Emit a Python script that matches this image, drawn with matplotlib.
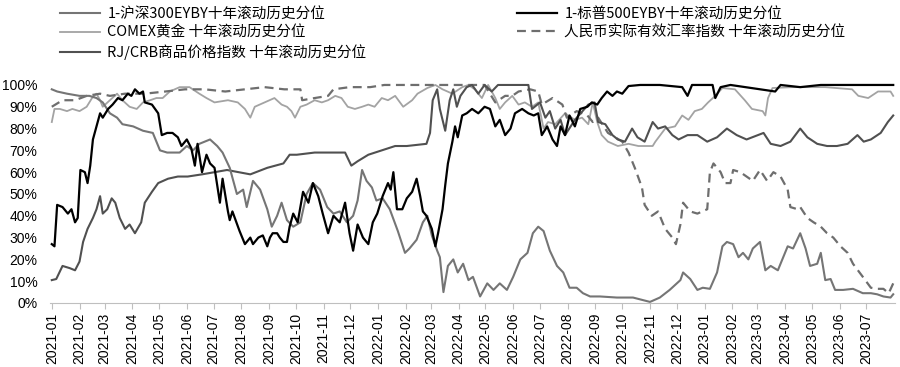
import pandas as pd
import matplotlib
matplotlib.use('Agg')
import matplotlib.pyplot as plt
import matplotlib.dates as mdates
from matplotlib.ticker import FuncFormatter

# ---- data (percentile, %) ----
sp500_dates = ['2021-01-01', '2021-01-04', '2021-01-07', '2021-01-13', '2021-01-19', '2021-01-23', '2021-01-27',
               '2021-01-30', '2021-02-02', '2021-02-07', '2021-02-10', '2021-02-13', '2021-02-16', '2021-02-20',
               '2021-02-24', '2021-02-27', '2021-03-05', '2021-03-10', '2021-03-16', '2021-03-21', '2021-03-27',
               '2021-03-31', '2021-04-04', '2021-04-09', '2021-04-13', '2021-04-15', '2021-04-23', '2021-04-30',
               '2021-05-04', '2021-05-10', '2021-05-16', '2021-05-22', '2021-05-26', '2021-06-01', '2021-06-06',
               '2021-06-10', '2021-06-13', '2021-06-18', '2021-06-23', '2021-06-27', '2021-07-02', '2021-07-08',
               '2021-07-11', '2021-07-17', '2021-07-19', '2021-07-22', '2021-07-30', '2021-08-05', '2021-08-11',
               '2021-08-14', '2021-08-20', '2021-08-25', '2021-08-30', '2021-09-02', '2021-09-05', '2021-09-10',
               '2021-09-13', '2021-09-17', '2021-09-21', '2021-09-24', '2021-09-28', '2021-10-03', '2021-10-09',
               '2021-10-15', '2021-10-20', '2021-10-26', '2021-10-31', '2021-11-06', '2021-11-12', '2021-11-19',
               '2021-11-25', '2021-11-30', '2021-12-04', '2021-12-09', '2021-12-15', '2021-12-21', '2021-12-26',
               '2021-12-31', '2022-01-06', '2022-01-12', '2022-01-15', '2022-01-18', '2022-01-22', '2022-01-28',
               '2022-02-02', '2022-02-08', '2022-02-13', '2022-02-17', '2022-02-20', '2022-02-24', '2022-03-02',
               '2022-03-06', '2022-03-09', '2022-03-14', '2022-03-17', '2022-03-20', '2022-03-25', '2022-03-28',
               '2022-03-31', '2022-04-05', '2022-04-10', '2022-04-16', '2022-04-23', '2022-04-30', '2022-05-06',
               '2022-05-12', '2022-05-17', '2022-05-23', '2022-05-29', '2022-06-03', '2022-06-11', '2022-06-18',
               '2022-06-24', '2022-06-29', '2022-07-03', '2022-07-09', '2022-07-15', '2022-07-20', '2022-07-24',
               '2022-07-29', '2022-08-03', '2022-08-09', '2022-08-15', '2022-08-23', '2022-08-28', '2022-09-03',
               '2022-09-08', '2022-09-14', '2022-09-20', '2022-09-25', '2022-10-01', '2022-10-08', '2022-10-21',
               '2022-11-12', '2022-12-07', '2022-12-13', '2022-12-18', '2023-01-10', '2023-01-13', '2023-01-19',
               '2023-01-30', '2023-03-21', '2023-03-27', '2023-04-18', '2023-05-11', '2023-06-13', '2023-07-31']
sp500_vals = [27, 26, 45, 44, 41, 43, 37, 39, 61, 60, 55, 63, 75, 81, 87, 85, 89, 91, 94, 93, 96, 95, 98, 96, 97, 92,
              91, 87, 77, 78, 78, 76, 72, 75, 71, 63, 73, 60, 68, 64, 62, 46, 57, 42, 38, 42, 33, 27, 30, 27, 30, 31,
              26, 30, 32, 32, 30, 28, 28, 35, 41, 37, 51, 46, 55, 49, 41, 32, 40, 37, 46, 32, 24, 36, 30, 27, 37, 41,
              49, 55, 52, 60, 43, 43, 48, 51, 57, 49, 42, 40, 34, 26, 32, 43, 54, 64, 74, 81, 76, 86, 87, 89, 87, 90,
              89, 81, 84, 77, 80, 87, 89, 87, 86, 87, 77, 81, 75, 72, 81, 77, 86, 81, 89, 90, 92, 91, 94, 97, 95, 97,
              96, 99.5, 100, 100, 99, 95, 100, 100, 94, 99, 100, 97, 100, 99, 100, 100, 100]

csi300_dates = ['2021-01-01', '2021-01-07', '2021-01-18', '2021-02-01', '2021-02-12', '2021-02-20', '2021-02-27',
                '2021-03-07', '2021-03-15', '2021-03-21', '2021-04-02', '2021-04-13', '2021-04-24', '2021-05-02',
                '2021-05-10', '2021-05-24', '2021-06-01', '2021-06-08', '2021-06-15', '2021-06-27', '2021-07-05',
                '2021-07-11', '2021-07-19', '2021-07-27', '2021-08-03', '2021-08-07', '2021-08-14', '2021-08-22',
                '2021-08-30', '2021-09-04', '2021-09-10', '2021-09-15', '2021-09-21', '2021-09-28', '2021-10-06',
                '2021-10-13', '2021-10-20', '2021-10-28', '2021-11-05', '2021-11-12', '2021-11-19', '2021-11-27',
                '2021-12-04', '2021-12-09', '2021-12-14', '2021-12-19', '2021-12-25', '2021-12-30', '2022-01-06',
                '2022-01-14', '2022-01-23', '2022-01-31', '2022-02-05', '2022-02-13', '2022-02-20', '2022-02-25',
                '2022-03-02', '2022-03-08', '2022-03-11', '2022-03-15', '2022-03-20', '2022-03-26', '2022-03-31',
                '2022-04-06', '2022-04-12', '2022-04-17', '2022-04-25', '2022-05-03', '2022-05-10', '2022-05-17',
                '2022-05-25', '2022-06-01', '2022-06-09', '2022-06-17', '2022-06-23', '2022-06-29', '2022-07-05',
                '2022-07-12', '2022-07-20', '2022-07-27', '2022-08-03', '2022-08-11', '2022-08-18', '2022-08-26',
                '2022-09-06', '2022-09-25', '2022-10-13', '2022-11-01', '2022-11-12', '2022-11-23', '2022-12-05',
                '2022-12-08', '2022-12-16', '2022-12-24', '2022-12-30', '2023-01-07', '2023-01-15', '2023-01-21',
                '2023-01-26', '2023-02-02', '2023-02-08', '2023-02-13', '2023-02-19', '2023-02-24', '2023-03-04',
                '2023-03-10', '2023-03-16', '2023-03-24', '2023-03-29', '2023-04-04', '2023-04-10', '2023-04-18',
                '2023-04-24', '2023-04-29', '2023-05-07', '2023-05-11', '2023-05-16', '2023-05-22', '2023-05-27',
                '2023-06-05', '2023-06-16', '2023-06-27', '2023-07-06', '2023-07-13', '2023-07-20', '2023-07-28',
                '2023-07-31']
csi300_vals = [98, 97, 96, 95, 95, 94, 92, 87, 85, 82, 81, 79, 78, 70, 69, 69, 72, 70, 73, 75, 72, 69, 62, 50, 52, 44,
               56, 52, 43, 35, 40, 46, 38, 35, 37, 50, 55, 52, 44, 41, 42, 37, 40, 47, 61, 56, 53, 47, 48, 43, 33, 23,
               25, 29, 37, 40, 31, 24, 21, 5, 17, 20, 14, 18, 10.5, 12, 3, 9, 6, 9, 6, 12, 20, 23, 32, 35, 33, 24, 17,
               14, 7, 7, 4.5, 3, 3, 2.5, 2.5, 0.5, 2.5, 6, 10.5, 14, 11, 6, 7, 6.5, 14, 26, 28, 27, 21, 23, 20, 25, 28,
               15, 17, 15, 20, 26, 25, 32, 25, 17, 18, 23, 10.5, 11, 6, 6, 6.5, 4.5, 4.5, 4, 3, 2.5, 4]

comex_dates = ['2021-01-01', '2021-01-04', '2021-01-10', '2021-01-18', '2021-01-24', '2021-02-01', '2021-02-09',
               '2021-02-15', '2021-02-20', '2021-02-24', '2021-02-27', '2021-03-07', '2021-03-15', '2021-03-21',
               '2021-03-29', '2021-04-06', '2021-04-13', '2021-04-21', '2021-04-28', '2021-05-05', '2021-05-13',
               '2021-05-24', '2021-06-04', '2021-06-15', '2021-06-23', '2021-07-02', '2021-07-17', '2021-07-28',
               '2021-08-05', '2021-08-11', '2021-08-16', '2021-08-27', '2021-09-07', '2021-09-15', '2021-09-21',
               '2021-09-26', '2021-09-30', '2021-10-06', '2021-10-13', '2021-10-22', '2021-10-30', '2021-11-06',
               '2021-11-14', '2021-11-21', '2021-11-28', '2021-12-06', '2021-12-14', '2021-12-21', '2021-12-28',
               '2022-01-05', '2022-01-12', '2022-01-20', '2022-01-29', '2022-02-08', '2022-02-14', '2022-02-25',
               '2022-03-06', '2022-03-14', '2022-03-25', '2022-04-05', '2022-04-12', '2022-04-19', '2022-04-27',
               '2022-05-04', '2022-05-12', '2022-05-17', '2022-05-23', '2022-05-31', '2022-06-07', '2022-06-14',
               '2022-06-22', '2022-06-29', '2022-07-05', '2022-07-10', '2022-07-18', '2022-07-29', '2022-08-09',
               '2022-08-17', '2022-08-24', '2022-08-29', '2022-09-03', '2022-09-08', '2022-09-15', '2022-09-26',
               '2022-10-08', '2022-10-19', '2022-11-04', '2022-11-07', '2022-11-18', '2022-11-29', '2022-12-07',
               '2022-12-14', '2022-12-21', '2022-12-29', '2023-01-05', '2023-01-13', '2023-01-21', '2023-02-04',
               '2023-02-15', '2023-02-23', '2023-03-07', '2023-03-10', '2023-03-13', '2023-03-18', '2023-04-09',
               '2023-05-16', '2023-06-15', '2023-06-22', '2023-07-03', '2023-07-14', '2023-07-28', '2023-07-31']
comex_vals = [83, 89, 89, 88, 89, 88, 90, 94, 96, 93, 90, 93, 96, 93, 90, 89, 92, 93, 94, 94, 97, 99, 99, 96, 94, 92,
              93, 92, 89, 85, 90, 92, 94, 91, 90, 88, 85, 90, 91, 93, 92, 93, 95, 94, 90, 89, 90, 91, 90, 94, 93, 95,
              90, 93, 96, 98.6, 100, 98, 96, 99, 100, 98, 94, 100, 94, 89, 92, 95, 91, 92, 90, 92, 80, 83, 82, 87, 84,
              85, 82, 92, 83, 77, 74, 72, 73, 72, 72, 74, 80, 81, 86, 84, 88, 89, 92, 95, 98.6, 98, 93, 89, 88, 86,
              94, 98.6, 99, 99, 98, 95, 94, 97, 97, 95]

rmb_dates = ['2021-01-01', '2021-01-13', '2021-01-27', '2021-02-09', '2021-02-24', '2021-03-07', '2021-03-24',
             '2021-04-15', '2021-05-08', '2021-05-30', '2021-06-21', '2021-07-14', '2021-08-05', '2021-08-27',
             '2021-09-18', '2021-10-06', '2021-10-08', '2021-10-22', '2021-11-06', '2021-11-12', '2021-11-30',
             '2021-12-23', '2022-01-08', '2022-02-17', '2022-04-03', '2022-04-30', '2022-05-12', '2022-05-23',
             '2022-05-31', '2022-06-07', '2022-06-20', '2022-06-29', '2022-07-03', '2022-07-15', '2022-07-26',
             '2022-07-31', '2022-08-11', '2022-08-23', '2022-08-29', '2022-09-04', '2022-09-15', '2022-10-01',
             '2022-10-08', '2022-10-15', '2022-10-23', '2022-10-26', '2022-11-03', '2022-11-10', '2022-11-18',
             '2022-11-26', '2022-11-30', '2022-12-05', '2022-12-08', '2022-12-16', '2022-12-24', '2023-01-04',
             '2023-01-07', '2023-01-11', '2023-01-19', '2023-01-24', '2023-01-30', '2023-02-02', '2023-02-10',
             '2023-02-17', '2023-02-24', '2023-03-04', '2023-03-12', '2023-03-19', '2023-03-27', '2023-04-04',
             '2023-04-07', '2023-04-15', '2023-04-18', '2023-04-26', '2023-05-03', '2023-05-11', '2023-05-18',
             '2023-05-25', '2023-06-02', '2023-06-10', '2023-06-16', '2023-06-27', '2023-07-06', '2023-07-13',
             '2023-07-20', '2023-07-26', '2023-07-31']
rmb_vals = [90, 93, 93, 95, 96, 95, 96, 96, 97, 98, 98, 97, 98, 99, 98, 98, 93, 94, 95, 98, 99, 99, 100, 100, 100, 100,
            92, 95, 95, 97, 98, 97, 91, 94, 91, 85, 88, 86, 83, 85, 78, 74, 69, 62, 53, 45, 40, 42, 34, 30, 27, 36,
            46, 42, 41, 43, 60, 64, 60, 55, 55, 61, 60, 58, 56, 61, 56, 60, 58, 52, 44, 43, 44, 39, 37, 35, 32, 30,
            26, 23, 18, 12, 7, 6.5, 6.5, 4.5, 9]

crb_dates = ['2021-01-01', '2021-01-06', '2021-01-13', '2021-01-21', '2021-01-27', '2021-02-01', '2021-02-05',
             '2021-02-10', '2021-02-16', '2021-02-20', '2021-02-24', '2021-02-27', '2021-03-04', '2021-03-09',
             '2021-03-13', '2021-03-18', '2021-03-24', '2021-03-29', '2021-04-04', '2021-04-11', '2021-04-15',
             '2021-04-23', '2021-04-30', '2021-05-11', '2021-05-22', '2021-06-02', '2021-06-18', '2021-07-02',
             '2021-07-16', '2021-08-11', '2021-08-30', '2021-09-17', '2021-09-24', '2021-10-02', '2021-10-22',
             '2021-11-10', '2021-11-25', '2021-12-02', '2021-12-09', '2021-12-21', '2022-01-05', '2022-01-20',
             '2022-02-02', '2022-02-24', '2022-02-28', '2022-03-03', '2022-03-08', '2022-03-11', '2022-03-17',
             '2022-03-22', '2022-03-26', '2022-03-30', '2022-04-03', '2022-04-10', '2022-04-16', '2022-04-23',
             '2022-04-30', '2022-05-08', '2022-05-15', '2022-06-18', '2022-06-22', '2022-07-01', '2022-07-07',
             '2022-07-12', '2022-07-18', '2022-07-24', '2022-07-29', '2022-08-09', '2022-08-24', '2022-08-31',
             '2022-09-04', '2022-09-12', '2022-09-20', '2022-09-26', '2022-10-04', '2022-10-12', '2022-10-18',
             '2022-10-26', '2022-11-04', '2022-11-10', '2022-11-18', '2022-11-26', '2022-12-03', '2022-12-13',
             '2022-12-24', '2023-01-04', '2023-01-15', '2023-01-26', '2023-02-06', '2023-02-17', '2023-03-08',
             '2023-03-16', '2023-03-27', '2023-04-07', '2023-04-18', '2023-04-26', '2023-05-07', '2023-05-18',
             '2023-05-29', '2023-06-10', '2023-06-21', '2023-06-28', '2023-07-06', '2023-07-17', '2023-07-25',
             '2023-07-31']
crb_vals = [10.5, 11, 17, 16, 15, 19, 28, 34, 39, 43, 49, 41, 43, 48, 46, 39, 34, 36, 32, 37, 46, 51, 55, 57, 58, 58,
            59, 60, 61, 59, 62, 64, 68, 68, 69, 69, 69, 63, 65, 68, 70, 72, 72, 73, 78, 93, 98, 89, 79, 93, 98, 90,
            95, 99, 100, 96, 100, 97, 100, 100, 89, 92, 85, 88, 80, 84, 77, 84, 91, 92, 83, 82, 77, 75, 74, 80, 76,
            74, 83, 80, 81, 77, 75, 77, 77, 74, 76, 80, 77, 75, 78, 73, 72, 74, 80, 76, 73, 72, 72, 73, 77, 74, 75,
            78, 83, 86]

labels = ['1-沪深300EYBY十年滚动历史分位', 'COMEX黄金 十年滚动历史分位', 'RJ/CRB商品价格指数 十年滚动历史分位',
          '1-标普500EYBY十年滚动历史分位', '人民币实际有效汇率指数 十年滚动历史分位']

plt.rcParams['font.family'] = ['Liberation Sans', 'DejaVu Sans']

fig = plt.figure(figsize=(9, 3.67), dpi=100)
ax = fig.add_axes([50 / 900, 1 - 303 / 367, 845 / 900, (303 - 80.6) / 367])

d = pd.to_datetime
l_comex, = ax.plot(d(comex_dates), comex_vals, color='#a3a3a3', lw=1.3)
l_rmb, = ax.plot(d(rmb_dates), rmb_vals, color='#6e6e6e', lw=1.6, linestyle=(0, (4, 2.5)))
l_crb, = ax.plot(d(crb_dates), crb_vals, color='#505050', lw=1.5)
l_csi, = ax.plot(d(csi300_dates), csi300_vals, color='#757575', lw=1.5)
l_sp, = ax.plot(d(sp500_dates), sp500_vals, color='#000000', lw=1.6)

ax.set_xlim(pd.Timestamp('2020-12-30'), pd.Timestamp('2023-08-02'))
ax.set_ylim(0, 102)
ax.set_yticks(range(0, 101, 10))
ax.yaxis.set_major_formatter(FuncFormatter(lambda v, p: f'{int(v)}%'))
ax.set_xticks(pd.date_range('2021-01-01', '2023-07-01', freq='MS'))
ax.xaxis.set_major_formatter(mdates.DateFormatter('%Y-%m'))
for s in ['top', 'right', 'left']:
    ax.spines[s].set_visible(False)
ax.spines['bottom'].set_color('#bfbfbf')
ax.tick_params(axis='y', length=0, labelsize=10, pad=9)
ax.tick_params(axis='x', length=4, color='#bfbfbf', labelsize=10, rotation=90, pad=3)

cjk = ['Noto Sans CJK SC', 'DejaVu Sans']
leg_kw = dict(loc='upper left', frameon=False, borderpad=0, borderaxespad=0, handlelength=2.75,
              handletextpad=0.5, labelspacing=0.3,
              prop={'family': cjk, 'size': 10.5, 'weight': 'medium'})
fig.legend([l_csi, l_comex, l_crb], labels[:3], bbox_to_anchor=(60 / 900, 1 - 7 / 367), **leg_kw)
fig.legend([l_sp, l_rmb], labels[3:], bbox_to_anchor=(517 / 900, 1 - 7 / 367), **leg_kw)

fig.savefig('out.png', dpi=100)
